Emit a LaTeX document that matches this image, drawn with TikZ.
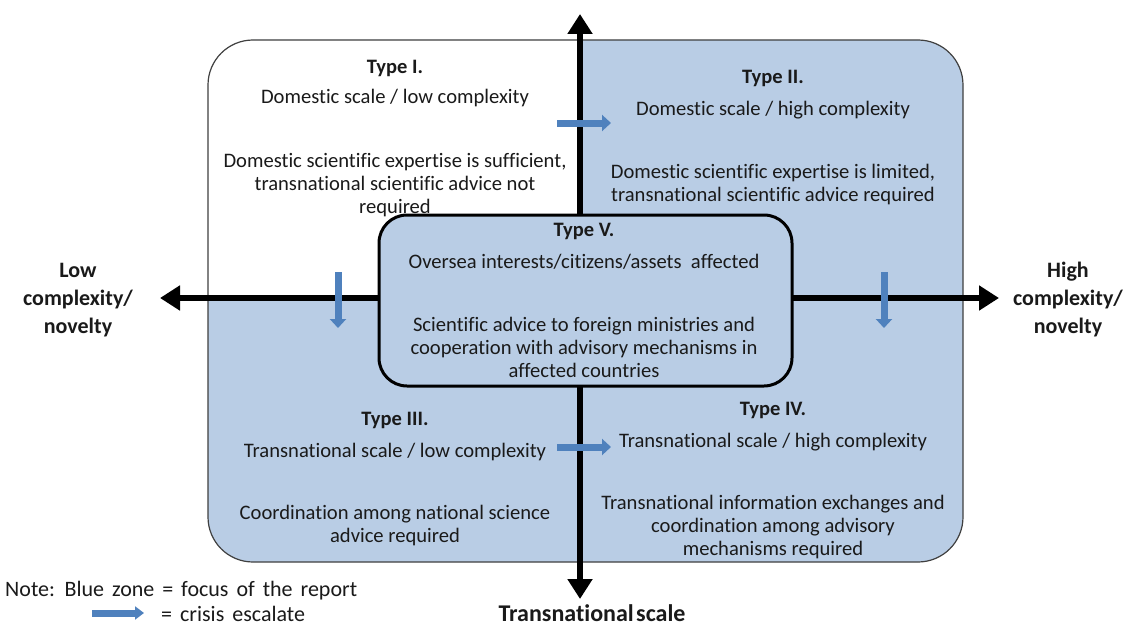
\documentclass[tikz,border=0pt]{standalone}
\usepackage{fontspec}
\setmainfont[Ligatures={NoCommon}]{Carlito}
\newfontfamily\notefont[Ligatures={NoCommon},WordSpace=1.6]{Carlito}
\usetikzlibrary{arrows.meta}
\definecolor{zone}{HTML}{B9CDE5}
\definecolor{esc}{HTML}{4F81BD}
\definecolor{ink}{HTML}{1A1A1A}
\begin{document}
\begin{tikzpicture}[x=1pt,y=-1pt,
  txt/.style={align=center,text=ink,font=\fontsize{20.6}{23}\selectfont,inner sep=0pt},
  ttl/.style={text=ink,font=\fontsize{20.5}{23}\bfseries\selectfont,inner sep=0pt},
  axlab/.style={align=center,text=ink,font=\fontsize{22}{28}\bfseries\selectfont,inner sep=0pt},
  axisline/.style={line width=6pt,{Triangle[length=20pt,width=24pt]}-{Triangle[length=20pt,width=24pt]}},
  escal/.style={esc,line width=7pt,-{Triangle[length=9pt,width=16pt]}},
  note/.style={anchor=base west,text=ink,font=\notefont\fontsize{22}{25}\selectfont,inner sep=0pt},
]
\useasboundingbox (0,0) rectangle (1128,626);
\fill[white] (0,0) rectangle (1128,626);
% blue zone
\fill[zone,rounded corners=45pt] (208,40) rectangle (963,562);
\begin{scope}
  \clip[rounded corners=45pt] (208,40) rectangle (963,562);
  \fill[white] (208,40) rectangle (580,298);
\end{scope}
\draw[black!75,line width=1.2pt,rounded corners=45pt] (208,40) rectangle (963,562);
% axes
\coordinate (N) at (580,14);
\coordinate (S) at (580,599);
\coordinate (W) at (160,298);
\coordinate (E) at (999,298);
\draw[axisline] (N) -- (S);
\draw[axisline] (W) -- (E);
% central box
\node[draw=black,line width=3pt,fill=zone,rounded corners=28pt,minimum width=413pt,minimum height=171pt] (V) at (585.5,300.5) {};
% escalation arrows
\coordinate (a1s) at (557,123); \coordinate (a1e) at (611,123);
\coordinate (a2s) at (557,447); \coordinate (a2e) at (611,447);
\coordinate (a3s) at (338,272); \coordinate (a3e) at (338,328);
\coordinate (a4s) at (884,272); \coordinate (a4e) at (884,328);
\draw[escal] (a1s) -- (a1e);
\draw[escal] (a2s) -- (a2e);
\draw[escal] (a3s) -- (a3e);
\draw[escal] (a4s) -- (a4e);
% Type I
\node[ttl] (t1) at (395,68) {Type I.};
\node[txt] (d1) at (395,98) {Domestic scale / low complexity};
\node[txt] (e1) at (395,185) {Domestic scientific expertise is sufficient,\\transnational scientific advice not\\required};
% Type II
\node[ttl] (t2) at (773,78) {Type II.};
\node[txt] (d2) at (773,110) {Domestic scale / high complexity};
\node[txt] (e2) at (773,184.5) {Domestic scientific expertise is limited,\\transnational scientific advice required};
% Type V
\node[ttl] (t5) at (584,231) {Type V.};
\node[txt] (d5) at (584,262) {Oversea interests/citizens/assets\ \ affected};
\node[txt] (e5) at (584,347) {Scientific advice to foreign ministries and\\cooperation with advisory mechanisms in\\affected countries};
% Type III
\node[ttl] (t3) at (395,420) {Type III.};
\node[txt] (d3) at (395,452) {Transnational scale / low complexity};
\node[txt] (e3) at (395,526) {Coordination among national science\\advice required};
% Type IV
\node[ttl] (t4) at (773,410) {Type IV.};
\node[txt] (d4) at (773,442) {Transnational scale / high complexity};
\node[txt] (e4) at (773,527) {Transnational information exchanges and\\coordination among advisory\\mechanisms required};
% axis labels
\node[axlab] (low) at (78,300) {Low\\complexity/\\novelty};
\node[axlab] (high) at (1068,300) {High\\complexity/\\novelty};
\node[anchor=base,text=ink,font=\fontsize{24}{26}\bfseries\selectfont,inner sep=0pt] (trans) at (592,621) {Transnational\hspace{0.1em}scale};
% legend
\node[note] (n1) at (5,596) {Note: Blue zone = focus of the report};
\coordinate (ls) at (92,613); \coordinate (le) at (144,613);
\draw[esc,line width=7pt,-{Triangle[length=9pt,width=13pt]}] (ls) -- (le);
\node[note] (n2) at (161,621) {= crisis escalate};
\end{tikzpicture}
\end{document}
